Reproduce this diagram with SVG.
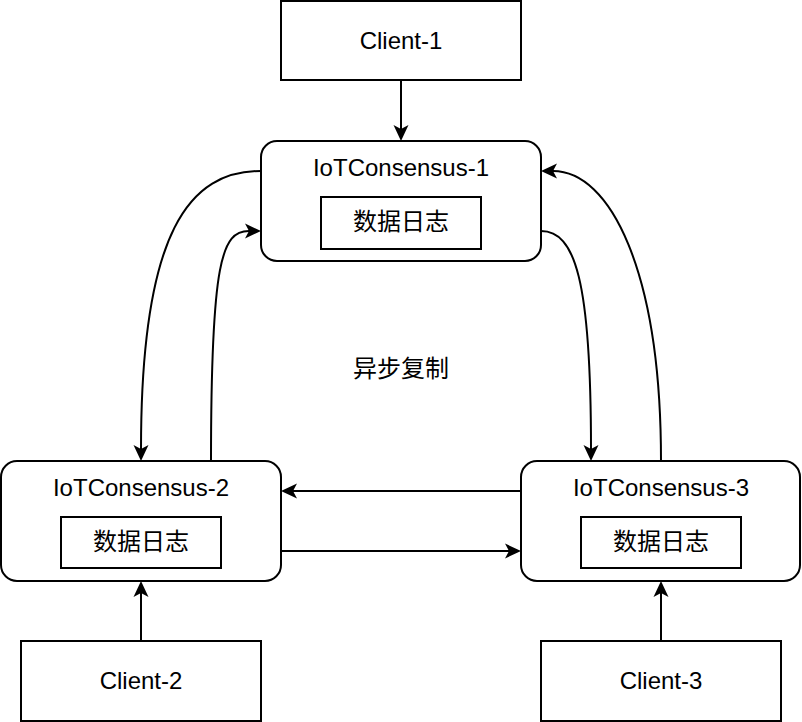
<svg xmlns="http://www.w3.org/2000/svg" width="802" height="722" viewBox="0 0 802 722">
<style>
.box{fill:#fff;stroke:#000;stroke-width:2}
.t{font-family:"Liberation Sans",Arial,sans-serif;font-size:24px;fill:#000;text-anchor:middle}
.c{font-family:"Noto Sans CJK SC","Noto Sans",sans-serif;font-size:24px;fill:#000;text-anchor:middle}
.e{fill:none;stroke:#000;stroke-width:2;marker-end:url(#arr)}
</style>
<defs>
<marker id="arr" markerUnits="userSpaceOnUse" viewBox="0 0 16 16" markerWidth="16" markerHeight="16" refX="4" refY="8" orient="auto">
<path d="M0,0.5 L16,8 L0,15.5 L4,8 Z" fill="#000"/>
</marker>
</defs>
<rect width="802" height="722" fill="#fff"/>
<g id="connectors">
<path class="e" d="M401,81 L401,129"/>
<path class="e" d="M141,641 L141,593"/>
<path class="e" d="M661,641 L661,593"/>
<path class="e" d="M521,491 L293,491"/>
<path class="e" d="M281,551 L509,551"/>
<path class="e" d="M261,171 C190,171 141,230 141,449"/>
<path class="e" d="M211,461 C211,260 222,231 249,231"/>
<path class="e" d="M541,231 C575,231 591,280 591,449"/>
<path class="e" d="M661,461 C661,270 610,171 553,171"/>
</g>
<g id="client1">
<rect class="box" x="281" y="1" width="240" height="79"/>
<text class="t" x="401" y="49">Client-1</text>
</g>
<g id="iot1">
<rect class="box" x="261" y="141" width="280" height="120" rx="16"/>
<text class="t" x="401" y="176">IoTConsensus-1</text>
<rect class="box" x="321" y="197" width="160" height="52"/>
<text class="c" x="401" y="230">数据日志</text>
</g>
<g id="iot2">
<rect class="box" x="1" y="461" width="280" height="120" rx="16"/>
<text class="t" x="141" y="496">IoTConsensus-2</text>
<rect class="box" x="61" y="517" width="160" height="51"/>
<text class="c" x="141" y="550">数据日志</text>
</g>
<g id="iot3">
<rect class="box" x="521" y="461" width="279" height="120" rx="16"/>
<text class="t" x="661" y="496">IoTConsensus-3</text>
<rect class="box" x="581" y="517" width="160" height="51"/>
<text class="c" x="661" y="550">数据日志</text>
</g>
<g id="client2">
<rect class="box" x="21" y="641" width="240" height="80"/>
<text class="t" x="141" y="689">Client-2</text>
</g>
<g id="client3">
<rect class="box" x="541" y="641" width="240" height="80"/>
<text class="t" x="661" y="689">Client-3</text>
</g>
<g id="label">
<text class="c" x="401" y="377">异步复制</text>
</g>
</svg>
